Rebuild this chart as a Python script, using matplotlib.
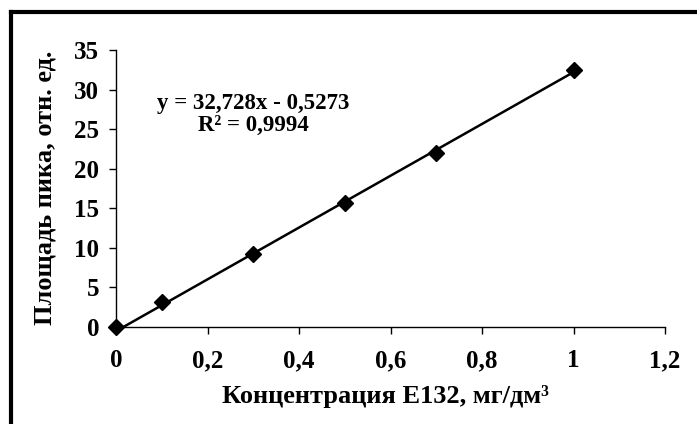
import matplotlib
matplotlib.use("Agg")
import matplotlib.pyplot as plt
from matplotlib.lines import Line2D
import numpy as np

# калибровочные данные
conc = [0, 0.1, 0.3, 0.5, 0.7, 1.0]
area = [0, 3.1, 9.2, 15.7, 22.0, 32.5]
slope, intercept = 32.728, -0.5273
r2 = 0.9994
x_ticks = [0, 0.2, 0.4, 0.6, 0.8, 1.0, 1.2]
x_labels = ["0", "0,2", "0,4", "0,6", "0,8", "1", "1,2"]
y_ticks = [0, 5, 10, 15, 20, 25, 30, 35]

plt.rcParams['font.family'] = ['Liberation Serif', 'DejaVu Serif']
plt.rcParams['font.weight'] = 'bold'

fig = plt.figure(figsize=(6.97, 4.24), dpi=100)
ax = fig.add_axes([116 / 697, 1 - 327 / 424, (665 - 116) / 697, (327 - 50) / 424])

# линия тренда
xs = np.array([0, 1.0])
ax.plot(xs, slope * xs + intercept, color='black', lw=1.8, zorder=2)
ax.plot(conc, area, linestyle='none', marker='D', markersize=8,
        color='black', zorder=3, clip_on=False)

ax.set_xlim(0, 1.2)
ax.set_ylim(0, 35)
ax.set_xticks(x_ticks)
ax.set_xticklabels(x_labels)
ax.set_yticks(y_ticks)
for s in ['top', 'right']:
    ax.spines[s].set_visible(False)
for s in ['left', 'bottom']:
    ax.spines[s].set_linewidth(1.0)
ax.tick_params(direction='out', length=5, width=1.0, labelsize=18, pad=7)
ax.tick_params(axis='x', pad=11)

ax.set_xlabel("Концентрация E132, мг/дм³", fontsize=19, fontweight='bold')
ax.set_ylabel("Площадь пика, отн. ед.", fontsize=19, fontweight='bold')
ax.xaxis.set_label_coords(385 / 697, 1 - 397 / 424, transform=fig.transFigure)
ax.yaxis.set_label_coords(45 / 697, 1 - 188 / 424, transform=fig.transFigure)
ax.xaxis.label.set_va('center')
ax.yaxis.label.set_va('center')

ax.text(0.30, 26.8, "y = 32,728x - 0,5273\nR² = 0,9994", ha='center', va='center',
        fontsize=16.5, fontweight='bold', linespacing=1.05)

# рамка
fig.add_artist(Line2D([11 / 697, 11 / 697], [1 - 12 / 424, 0], transform=fig.transFigure,
                      color='black', lw=3))
fig.add_artist(Line2D([11 / 697, 1], [1 - 12 / 424, 1 - 12 / 424], transform=fig.transFigure,
                      color='black', lw=3))

fig.savefig("out.png", dpi=100)
